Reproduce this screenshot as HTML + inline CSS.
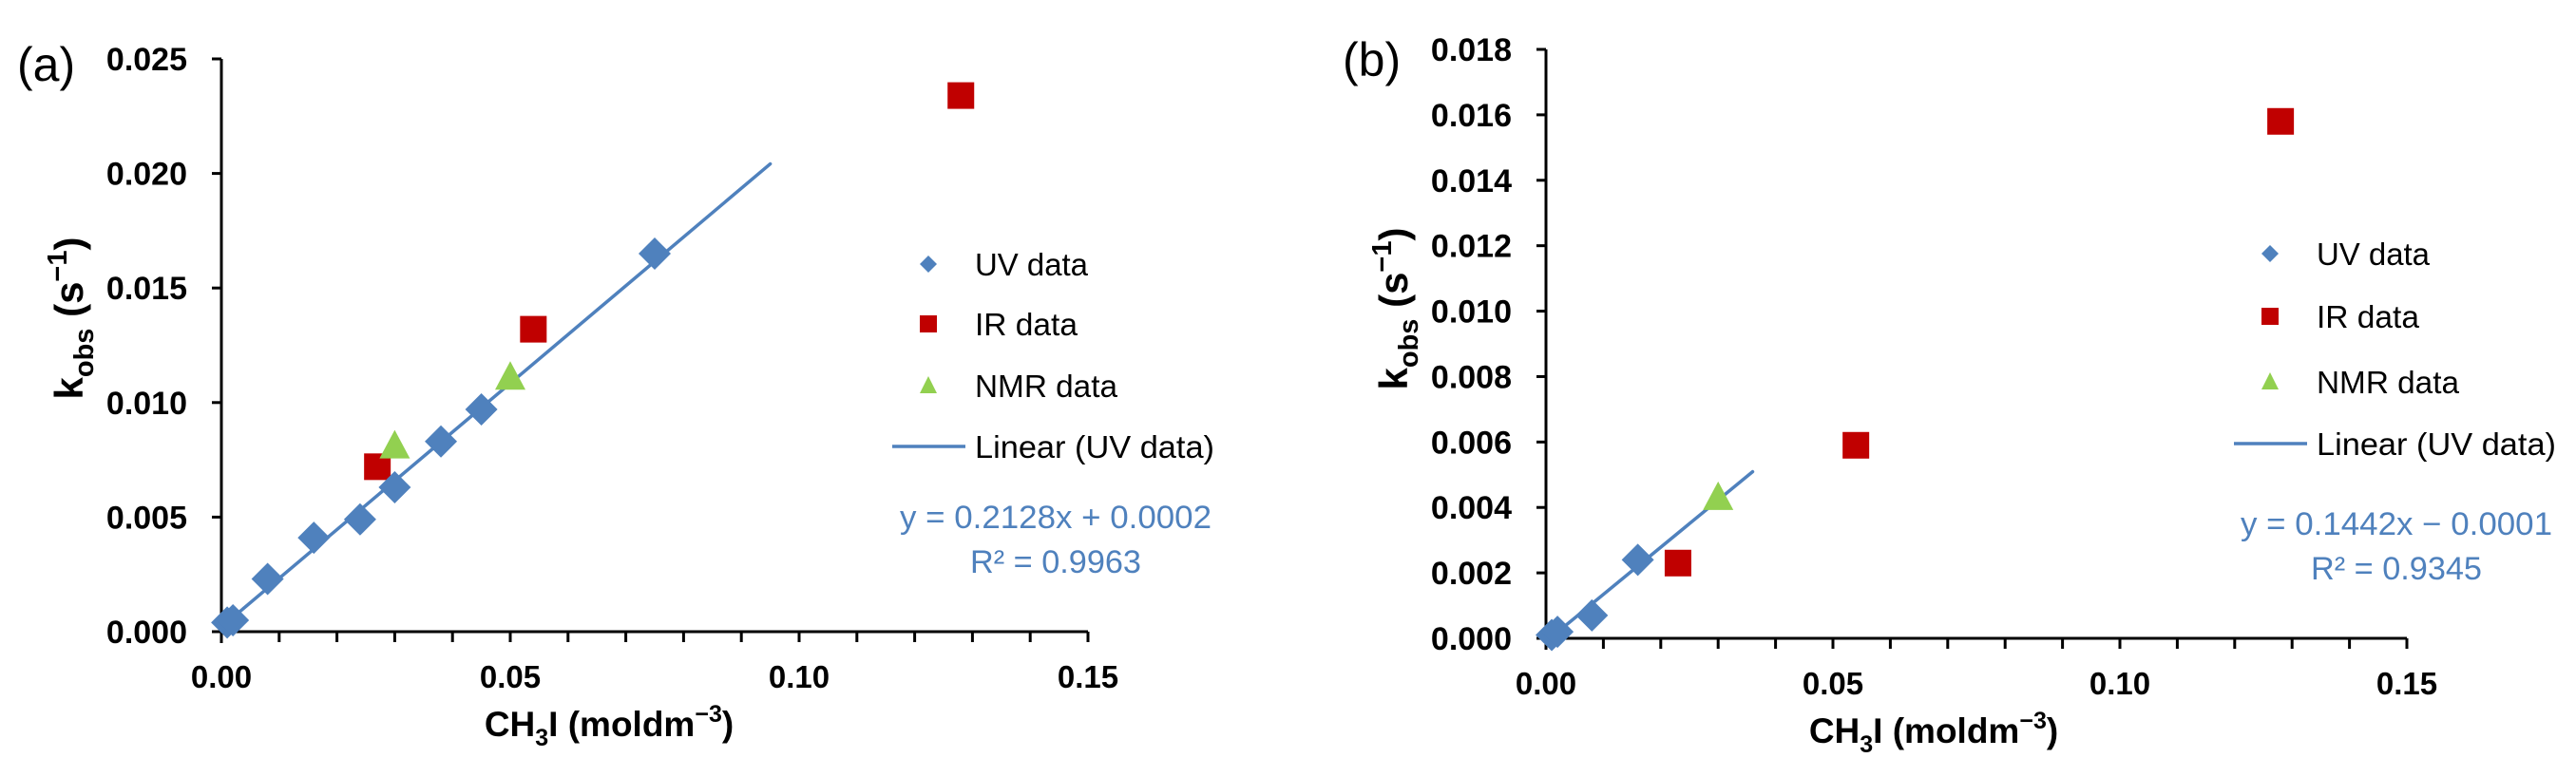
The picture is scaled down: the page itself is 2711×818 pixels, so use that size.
<!DOCTYPE html>
<html><head><meta charset="utf-8"><style>
body{margin:0;background:#fff;}
svg{display:block;font-family:"Liberation Sans",Arial,sans-serif;}
</style></head><body>
<svg id="fig" width="2711" height="818" viewBox="0 0 2711 818" xmlns="http://www.w3.org/2000/svg"></svg>
<script>
// Panel (a) data
const aUVx=[0.001,0.002,0.008,0.016,0.024,0.030,0.038,0.045,0.075];
const aUVy=[0.0004,0.0005,0.0023,0.0041,0.0049,0.0063,0.0083,0.0097,0.0165];
const aIRx=[0.027,0.054,0.128];
const aIRy=[0.0072,0.0132,0.0234];
const aNMRx=[0.030,0.050];
const aNMRy=[0.0081,0.0111];
const aFit=[0.2128,0.0002,0.095];
const aYTicks=["0.000","0.005","0.010","0.015","0.020","0.025"];
// Panel (b) data
const bUVx=[0.001,0.002,0.008,0.016];
const bUVy=[0.0001,0.0002,0.0007,0.0024];
const bIRx=[0.023,0.054,0.128];
const bIRy=[0.0023,0.0059,0.0158];
const bNMRx=[0.030];
const bNMRy=[0.0043];
const bFit=[0.1442,-0.0001,0.036];
const bYTicks=["0.000","0.002","0.004","0.006","0.008","0.010","0.012","0.014","0.016","0.018"];
const xTicks=["0.00","0.05","0.10","0.15"];

const NS="http://www.w3.org/2000/svg";
const svg=document.getElementById('fig');
function mk(tag,attrs,parent,text){
  const e=document.createElementNS(NS,tag);
  for(const k in attrs)e.setAttribute(k,attrs[k]);
  if(text!==undefined)e.textContent=text;
  (parent||svg).appendChild(e);return e;
}
const BLUE="#4F81BD",RED="#C00000",GREEN="#92D050";

function panel(P){
  const g=mk('g',{});
  
  
  const X=v=>P.x0+v/0.15*P.xw;
  const Y=v=>P.y0-v/P.ymax*P.yh;
  const ax=mk('line',{x1:P.x0,y1:P.y0-P.yh,x2:P.x0,y2:P.y0+12,stroke:'#000','stroke-width':3},g);
  
  const axx=mk('line',{x1:P.x0-10,y1:P.y0,x2:P.x0+P.xw,y2:P.y0,stroke:'#000','stroke-width':3},g);
  
  P.yt.forEach(t=>{
    const v=parseFloat(t),y=Y(v);
    mk('line',{x1:P.x0-10,y1:y,x2:P.x0,y2:y,stroke:'#000','stroke-width':3},g);
    const tx=mk('text',{x:P.x0-36,y:y+12,'text-anchor':'end','font-size':34,'font-weight':'bold'},g,t);
    
  });
  for(let k=1;k<=15;k++){
    const x=X(k*0.01);
    mk('line',{x1:x,y1:P.y0,x2:x,y2:P.y0+11,stroke:'#000','stroke-width':3},g);
  }
  xTicks.forEach(t=>{
    const tx=mk('text',{x:X(parseFloat(t)),y:P.y0+59,'text-anchor':'middle','font-size':33,'font-weight':'bold'},g,t);
    
  });
  const xt=mk('text',{x:P.x0+408,y:P.y0+110,'text-anchor':'middle','font-size':37,'font-weight':'bold'},g);
  
  xt.innerHTML='CH<tspan font-size="25" dy="10">3</tspan><tspan dy="-10">I (moldm</tspan><tspan font-size="25" dy="-15">−3</tspan><tspan dy="15">)</tspan>';
  const yt=mk('text',{transform:`translate(${P.x0-146},${P.ytc}) rotate(-90)`,'text-anchor':'middle','font-size':42,'font-weight':'bold'},g);
  
  yt.innerHTML='k<tspan font-size="29" dy="11">obs</tspan><tspan dy="-11"> (s</tspan><tspan font-size="29" dy="-17">−1</tspan><tspan dy="17">)</tspan>';
  const pl=mk('text',{x:P.lx,y:P.ly,'font-size':50},g,'('+P.id+')');
  
  const f=P.fit;
  const fl=mk('line',{x1:X(0),y1:Y(f[1]),x2:X(f[2]),y2:Y(f[0]*f[2]+f[1]),stroke:BLUE,'stroke-width':3.5,'stroke-linecap':'round'},g);
  
  const diamond=(cx,cy,s)=>`${cx},${cy-s} ${cx+s},${cy} ${cx},${cy+s} ${cx-s},${cy}`;
  const tri=(cx,cy)=>`${cx},${cy-17} ${cx+16},${cy+13} ${cx-16},${cy+13}`;
  P.irx.forEach((x,i)=>{const r=mk('rect',{x:X(x)-14,y:Y(P.iry[i])-14,width:28,height:28,fill:RED},g);
    });
  P.nmrx.forEach((x,i)=>{const r=mk('polygon',{points:tri(X(x),Y(P.nmry[i])),fill:GREEN},g);
    });
  P.uvx.forEach((x,i)=>{const r=mk('polygon',{points:diamond(X(x),Y(P.uvy[i]),17),fill:BLUE},g);
    });
  const L=P.leg;
  const lg=mk('g',{},g);
  mk('polygon',{points:diamond(L.mx,L.y[0],9),fill:BLUE},lg);
  mk('rect',{x:L.mx-9,y:L.y[1]-9,width:18,height:18,fill:RED},lg);
  mk('polygon',{points:`${L.mx},${L.y[2]-10} ${L.mx+9},${L.y[2]+8} ${L.mx-9},${L.y[2]+8}`,fill:GREEN},lg);
  mk('line',{x1:L.mx-38,y1:L.y[3],x2:L.mx+39,y2:L.y[3],stroke:BLUE,'stroke-width':3.5},lg);
  const lw=[119,108,150,252];
  ['UV data','IR data','NMR data','Linear (UV data)'].forEach((t,i)=>{
    const e=mk('text',{x:L.tx,y:L.y[i]+12,'font-size':33,fill:'#000',textLength:lw[i],lengthAdjust:'spacingAndGlyphs'},lg,t);
    
  });
  const sign=f[1]<0?'−':'+';
  const e1=mk('text',{x:P.ex,y:P.ey,'text-anchor':'middle','font-size':34,fill:BLUE,textLength:328,lengthAdjust:'spacingAndGlyphs'},g,`y = ${f[0].toFixed(4)}x ${sign} ${Math.abs(f[1]).toFixed(4)}`);
  
  const e2=mk('text',{x:P.ex,y:P.ey+47,'text-anchor':'middle','font-size':34,fill:BLUE,textLength:180,lengthAdjust:'spacingAndGlyphs'},g,'R² = '+P.r2);
  
}
panel({id:'a',x0:233,y0:665,xw:912,yh:603,ymax:0.025,yt:aYTicks,fit:aFit,
  uvx:aUVx,uvy:aUVy,irx:aIRx,iry:aIRy,nmrx:aNMRx,nmry:aNMRy,lx:18,ly:85,ytc:335,
  leg:{mx:977,tx:1026,y:[278,341,406,470]},ex:1111,ey:556,r2:'0.9963'});
panel({id:'b',x0:1627,y0:672,xw:906,yh:620,ymax:0.018,yt:bYTicks,fit:bFit,
  uvx:bUVx,uvy:bUVy,irx:bIRx,iry:bIRy,nmrx:bNMRx,nmry:bNMRy,lx:1413,ly:80,ytc:325,
  leg:{mx:2389,tx:2438,y:[267,333,402,467]},ex:2522,ey:563,r2:'0.9345'});
</script>
</body></html>
